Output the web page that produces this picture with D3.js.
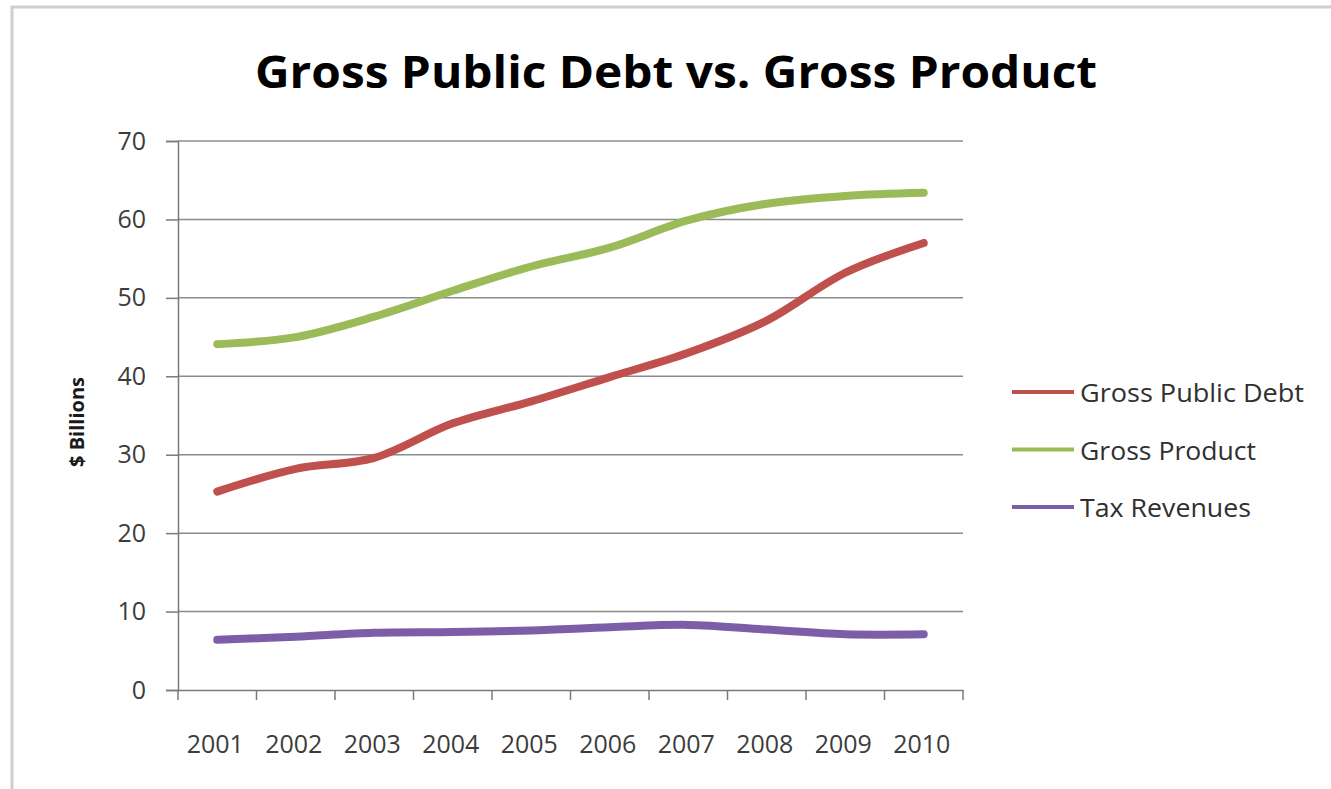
<!DOCTYPE html>
<html>
<head>
	<meta charset="utf-8">
	<title>Gross Public Debt vs. Gross Product</title>
	<script src="https://cdn.jsdelivr.net/npm/d3@7"></script>
	<style>
		body { margin: 0; background: #fff; }
		text { font-family: "Open Sans", "Noto Sans", sans-serif; }
		.tickText { font-size: 25px; fill: #3c3c3c; }
		.legendText { font-size: 25px; fill: #303030; }
	</style>
</head>
<body>
<script>
	// data
	var years = ['2001', '2002', '2003', '2004', '2005', '2006', '2007', '2008', '2009', '2010'];
	var debt = [25.3, 28.2, 29.6, 34.0, 36.8, 39.9, 43.0, 47.1, 53.2, 57.0];
	var product = [44.1, 45.0, 47.6, 50.9, 54.0, 56.4, 59.9, 62.0, 63.0, 63.4];
	var tax = [6.4, 6.8, 7.3, 7.4, 7.6, 8.0, 8.3, 7.7, 7.1, 7.1];
	var yTicks = [0, 10, 20, 30, 40, 50, 60, 70];
	var seriesNames = ['Gross Public Debt', 'Gross Product', 'Tax Revenues'];
	var seriesColors = ['#c0504d', '#9bbb59', '#7b5ea7'];
	var legendWidths = [224, 176, 171];

	var w = 1331, h = 789;
	var margin = {left: 178, right: 368, top: 141, bottom: 99};

	var svg = d3.select('body').append('svg').attr('width', w).attr('height', h);

	// outer frame
	svg.append('path').attr('d', 'M12,' + h + 'V7H' + w)
		.attr('fill', 'none').attr('stroke', '#cfcfcf').attr('stroke-width', 3);

	var xScale = d3.scaleBand().domain(years).range([margin.left, w - margin.right]);
	var yScale = d3.scaleLinear().domain([0, 70]).range([h - margin.bottom, margin.top]);

	// gridlines
	svg.append('g').selectAll('line').data(yTicks.slice(1)).enter().append('line')
		.attr('x1', margin.left).attr('x2', w - margin.right)
		.attr('y1', function(d) { return yScale(d); })
		.attr('y2', function(d) { return yScale(d); })
		.attr('stroke', '#8c8c8c').attr('stroke-width', 1.5);

	// y axis
	var yAxis = d3.axisLeft(yScale).tickValues(yTicks).tickSize(12).tickPadding(20);
	var gy = svg.append('g').attr('transform', 'translate(' + margin.left + ',0)').call(yAxis);
	gy.select('.domain').attr('stroke', '#7a7a7a').attr('stroke-width', 1.5);
	gy.selectAll('.tick line').attr('stroke', '#7a7a7a').attr('stroke-width', 1.5);
	gy.selectAll('.tick text').attr('class', 'tickText').attr('font-size', null).attr('font-family', null);

	// x axis, ticks between categories
	var xAxis = d3.axisBottom(xScale).tickSize(0).tickPadding(45);
	var gx = svg.append('g').attr('transform', 'translate(0,' + (h - margin.bottom) + ')').call(xAxis);
	gx.select('.domain').attr('stroke', '#7a7a7a').attr('stroke-width', 1.5);
	gx.selectAll('.tick text').attr('class', 'tickText').attr('font-size', null).attr('font-family', null)
		.attr('dx', -2);
	var bounds = years.map(function(d) { return xScale(d); }).concat([w - margin.right]);
	gx.selectAll('.sep').data(bounds).enter().append('line')
		.attr('x1', function(d) { return d; }).attr('x2', function(d) { return d; })
		.attr('y1', 0).attr('y2', 10)
		.attr('stroke', '#7a7a7a').attr('stroke-width', 1.5);

	// lines
	var allSeries = [debt, product, tax];
	var line = d3.line()
		.x(function(d, i) { return xScale(years[i]) + xScale.bandwidth() / 2; })
		.y(function(d) { return yScale(d); })
		.curve(d3.curveCatmullRom.alpha(0.5));

	// purple first, then green, red on top
	[2, 1, 0].forEach(function(k) {
		svg.append('path').datum(allSeries[k])
			.attr('fill', 'none').attr('stroke', seriesColors[k])
			.attr('stroke-width', 8).attr('stroke-linecap', 'round').attr('stroke-linejoin', 'round')
			.attr('d', line);
	});

	// legend
	var legend = svg.append('g').attr('transform', 'translate(1012,392)');
	seriesNames.forEach(function(name, i) {
		legend.append('line').attr('x1', 0).attr('x2', 62).attr('y1', i * 57.5).attr('y2', i * 57.5)
			.attr('stroke', seriesColors[i]).attr('stroke-width', 4);
		legend.append('text').attr('class', 'legendText').attr('x', 68).attr('y', i * 57.5 + 10)
			.attr('textLength', legendWidths[i]).attr('lengthAdjust', 'spacingAndGlyphs')
			.text(name);
	});

	// title
	svg.append('text').attr('x', 676).attr('y', 88).attr('text-anchor', 'middle')
		.attr('font-size', 44).attr('font-weight', 'bold').attr('fill', '#000')
		.attr('textLength', 842).attr('lengthAdjust', 'spacingAndGlyphs')
		.text('Gross Public Debt vs. Gross Product');

	// y axis label
	svg.append('text').attr('transform', 'translate(84,' + 422 + ')rotate(-90)')
		.attr('text-anchor', 'middle').attr('font-size', 20).attr('font-weight', 'bold').attr('fill', '#1a1a1a')
		.text('$ Billions');
</script>
</body>
</html>
